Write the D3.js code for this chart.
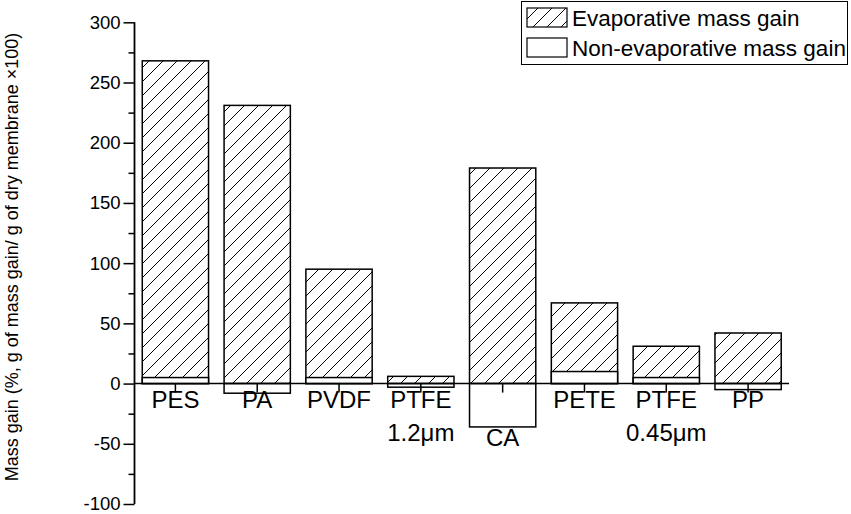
<!DOCTYPE html>
<html>
<head>
<meta charset="utf-8">
<script src="https://cdn.jsdelivr.net/npm/d3@7"></script>
<style>
  html, body { margin: 0; padding: 0; background: #fff; }
  svg { display: block; font-family: "Liberation Sans", Arial, sans-serif; }
</style>
</head>
<body>
<svg id="chart" width="851" height="514"></svg>
<script>
// Membrane types (second line of label after the newline)
const categories = ["PES", "PA", "PVDF", "PTFE\n1.2\u03bcm", "CA", "PETE", "PTFE\n0.45\u03bcm", "PP"];
// Evaporative mass gain (%)
const evaporative = [268, 231, 95, 6, 179, 67, 31, 42];
// Non-evaporative mass gain (%)
const nonEvaporative = [5, -8, 5, -3, -36, 10, 5, -5];
const yMajorTicks = [-100, -50, 0, 50, 100, 150, 200, 250, 300];
const yMinorTicks = [-75, -25, 25, 75, 125, 175, 225, 275];
const legendLabels = ["Evaporative mass gain", "Non-evaporative mass gain"];
const yTitle = "Mass gain (%, g of mass gain/ g of dry membrane \u00d7100)";

const svg = d3.select("#chart");
const plotLeft = 134.5, plotRight = 789, plotTop = 22.3, plotBottom = 504;

const x = d3.scaleBand()
  .domain(categories)
  .range([plotLeft, plotRight])
  .paddingInner(0.19)
  .paddingOuter(0.095);

const y = d3.scaleLinear().domain([-100, 300]).range([plotBottom, plotTop]);

// diagonal hatch
const defs = svg.append("defs");
const pat = defs.append("pattern")
  .attr("id", "hatch")
  .attr("patternUnits", "userSpaceOnUse")
  .attr("width", 14).attr("height", 14);
pat.append("rect").attr("width", 14).attr("height", 14).attr("fill", "#fff");
pat.append("path")
  .attr("d", "M-1,1 l2,-2 M0,14 l14,-14 M13,15 l2,-2")
  .attr("stroke", "#000").attr("stroke-width", 1);

const rows = categories.map((c, i) => ({ c, ev: evaporative[i], ne: nonEvaporative[i] }));

// evaporative bars (hatched)
svg.append("g").selectAll("rect").data(rows).join("rect")
  .attr("x", d => x(d.c))
  .attr("width", x.bandwidth())
  .attr("y", d => y(Math.max(0, d.ev)))
  .attr("height", d => Math.abs(y(d.ev) - y(0)))
  .attr("fill", "url(#hatch)")
  .attr("stroke", "#000").attr("stroke-width", 1.5);

// non-evaporative bars (open)
svg.append("g").selectAll("rect").data(rows).join("rect")
  .attr("x", d => x(d.c))
  .attr("width", x.bandwidth())
  .attr("y", d => y(Math.max(0, d.ne)))
  .attr("height", d => Math.abs(y(d.ne) - y(0)))
  .attr("fill", "#fff")
  .attr("stroke", "#000").attr("stroke-width", 1.5);

// y axis with major and minor ticks
const yAxis = svg.append("g").attr("transform", `translate(${plotLeft},0)`);
yAxis.call(d3.axisLeft(y).tickValues(yMajorTicks).tickSize(11).tickPadding(3).tickFormat(d => String(d)))
  .call(g => g.select(".domain").remove());
yAxis.selectAll(".tick line").attr("stroke-width", 1.5);
yAxis.selectAll(".tick text").attr("font-size", 18.5).attr("fill", "#000")
  .attr("font-family", "Liberation Sans, Arial, sans-serif");
yAxis.append("g").call(d3.axisLeft(y).tickValues(yMinorTicks).tickSize(6).tickFormat(""))
  .call(g => g.select(".domain").remove())
  .selectAll("line").attr("stroke-width", 1.5);
yAxis.append("line").attr("y1", y(-100)).attr("y2", y(300))
  .attr("stroke", "#000").attr("stroke-width", 1.8);

// x axis along zero
const xAxis = svg.append("g").attr("transform", `translate(0,${y(0)})`);
xAxis.call(d3.axisBottom(x).tickSize(9).tickFormat(""))
  .call(g => g.select(".domain").remove());
xAxis.selectAll(".tick line").attr("stroke-width", 1.5);
xAxis.append("line").attr("x1", plotLeft).attr("x2", plotRight)
  .attr("stroke", "#000").attr("stroke-width", 1.5);

// category labels, dropped below a deep negative bar
const labels = svg.append("g");
rows.forEach(d => {
  const cx = x(d.c) + x.bandwidth() / 2;
  const base = d.ne < -20 ? y(d.ne) + 19 : y(0) + 24;
  const t = labels.append("text")
    .attr("x", cx).attr("y", base)
    .attr("text-anchor", "middle")
    .attr("font-size", 24).attr("fill", "#000");
  d.c.split("\n").forEach((line, k) => {
    t.append("tspan").attr("x", cx).attr("dy", k === 0 ? 0 : 33).text(line);
  });
});

// y title
svg.append("text")
  .attr("transform", `translate(18,257) rotate(-90)`)
  .attr("text-anchor", "middle")
  .attr("font-size", 18).attr("fill", "#000")
  .text(yTitle);

// legend
const lg = svg.append("g");
lg.append("rect").attr("x", 521.5).attr("y", 1.5).attr("width", 326).attr("height", 63)
  .attr("fill", "#fff").attr("stroke", "#000").attr("stroke-width", 1);
legendLabels.forEach((lab, i) => {
  lg.append("rect").attr("x", 527).attr("y", 8 + i * 30).attr("width", 40).attr("height", 19)
    .attr("fill", i === 0 ? "url(#hatch)" : "#fff")
    .attr("stroke", "#000").attr("stroke-width", 1.2);
  lg.append("text").attr("x", 572).attr("y", 26 + i * 30)
    .attr("font-size", 22.5).attr("fill", "#000").text(lab);
});
</script>
</body>
</html>
